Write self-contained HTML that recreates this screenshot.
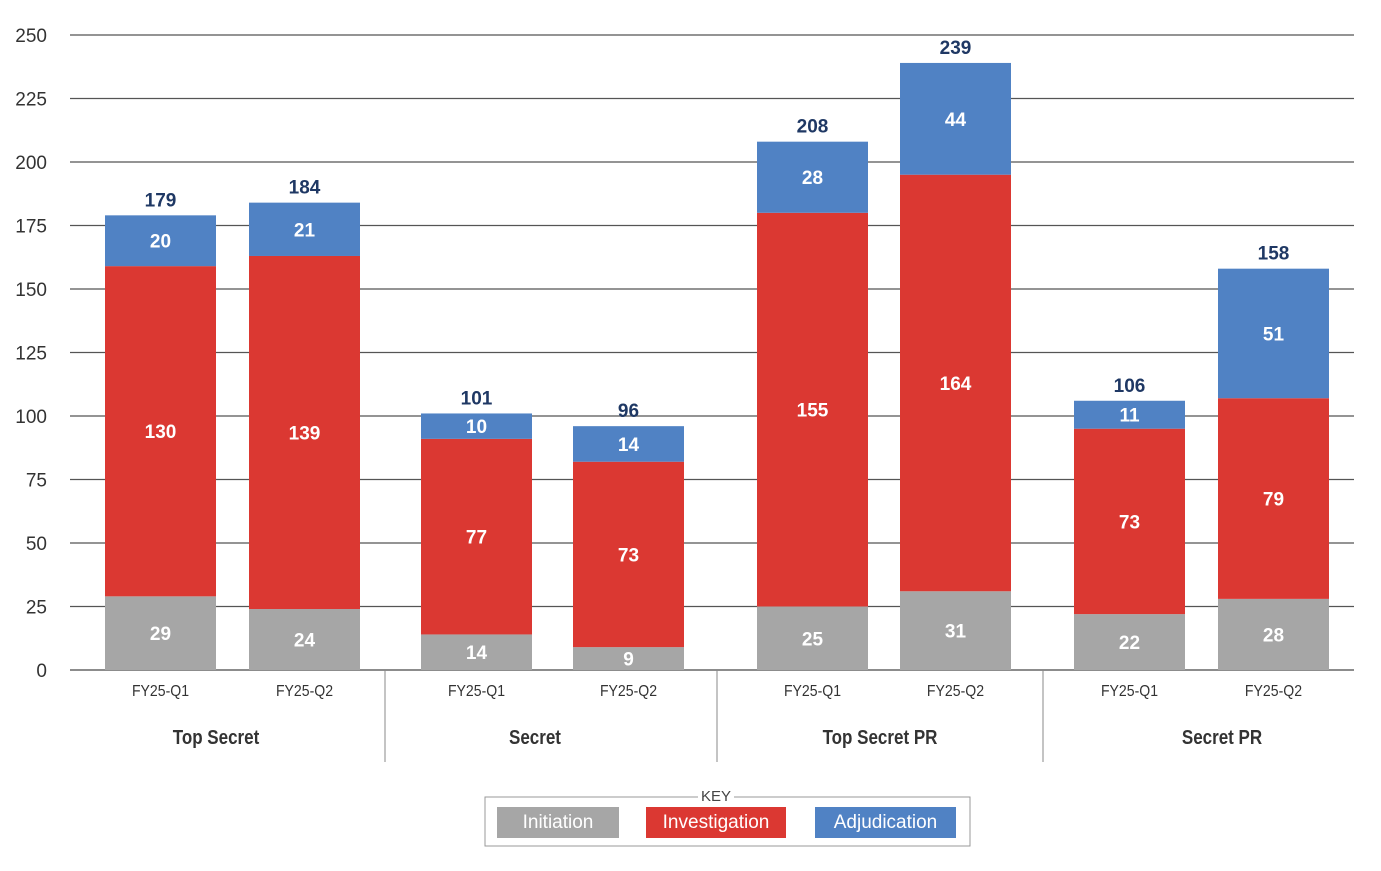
<!DOCTYPE html>
<html><head><meta charset="utf-8"><style>
body{margin:0;background:#fff;}
svg{display:block;font-family:"Liberation Sans",sans-serif;}
</style></head><body>
<svg id="chart" width="1381" height="871"></svg>
<script>
const categories=["FY25-Q1","FY25-Q2","FY25-Q1","FY25-Q2","FY25-Q1","FY25-Q2","FY25-Q1","FY25-Q2"];
const groups=["Top Secret","Secret","Top Secret PR","Secret PR"];
const initiation=[29,24,14,9,25,31,22,28];
const investigation=[130,139,77,73,155,164,73,79];
const adjudication=[20,21,10,14,28,44,11,51];
const totals=[179,184,101,96,208,239,106,158];
const ticks=[0,25,50,75,100,125,150,175,200,250,225];
const NS="http://www.w3.org/2000/svg";
const svg=document.getElementById("chart");
function y(v){return 670-v*(635/250);}
const barX=[105,249,421,573,757,900,1074,1218];
const bw=111;
function mk(t,a,p){const e=document.createElementNS(NS,t);for(const k in a)e.setAttribute(k,a[k]);(p||svg).appendChild(e);return e;}
ticks.forEach(t=>{
 const l=mk("line",{x1:70,x2:1354,y1:y(t),y2:y(t),stroke:t===0?"#666":"#555","stroke-width":t===0?1.5:1.2});
 
 
 const tx=mk("text",{x:47,y:y(t)+7,"text-anchor":"end","font-size":19,fill:"#333"});
 tx.textContent=t;
 
 
});
const series=[[initiation,"#a6a6a6","initiation"],[investigation,"#db3832","investigation"],[adjudication,"#5082c4","adjudication"]];
categories.forEach((c,i)=>{
 let base=0;
 series.forEach(([arr,col,nm])=>{
  const v=arr[i];
  const r=mk("rect",{x:barX[i],y:y(base+v),width:bw,height:y(base)-y(base+v),fill:col});
  
  
  const t=mk("text",{x:barX[i]+bw/2,y:(y(base)+y(base+v))/2+7,"text-anchor":"middle","font-size":19,"font-weight":"bold",fill:"#fff"});
  t.textContent=v;
  
  
  base+=v;
 });
 const tt=mk("text",{x:barX[i]+bw/2,y:y(base)-9,"text-anchor":"middle","font-size":19,"font-weight":"bold",fill:"#1f3864"});
 tt.textContent=totals[i];
 
 
 const cl=mk("text",{x:barX[i]+bw/2,y:696,"text-anchor":"middle","font-size":16,fill:"#333",transform:`translate(${(barX[i]+bw/2)*0.12},0) scale(0.88,1)`});
 cl.textContent=c;
 
 
});
const gx=[216,535,880,1222];
groups.forEach((g,i)=>{
 const t=mk("text",{x:gx[i],y:744,"text-anchor":"middle","font-size":20,"font-weight":"bold",fill:"#333",transform:`translate(${gx[i]*0.15},0) scale(0.85,1)`});
 t.textContent=g;
 
 
});
[385,717,1043].forEach(x=>{
 const l=mk("line",{x1:x,x2:x,y1:670,y2:762,stroke:"#888","stroke-width":1});
 
 
});
const lg=mk("g",{});


mk("rect",{x:485,y:797,width:485,height:49,fill:"none",stroke:"#999"},lg);
mk("rect",{x:698,y:786,width:36,height:18,fill:"#fff"},lg);
const kt=mk("text",{x:716,y:801,"text-anchor":"middle","font-size":15,fill:"#444"},lg);kt.textContent="KEY";
[["Initiation","#a6a6a6",497,122],["Investigation","#db3832",646,140],["Adjudication","#5082c4",815,141]].forEach(([n,c,x,w])=>{
 const r=mk("rect",{x:x,y:807,width:w,height:31,fill:c},lg);
 
 
 const t=mk("text",{x:x+w/2,y:828,"text-anchor":"middle","font-size":19,fill:"#fff"},lg);t.textContent=n;
});
</script>
</body></html>
